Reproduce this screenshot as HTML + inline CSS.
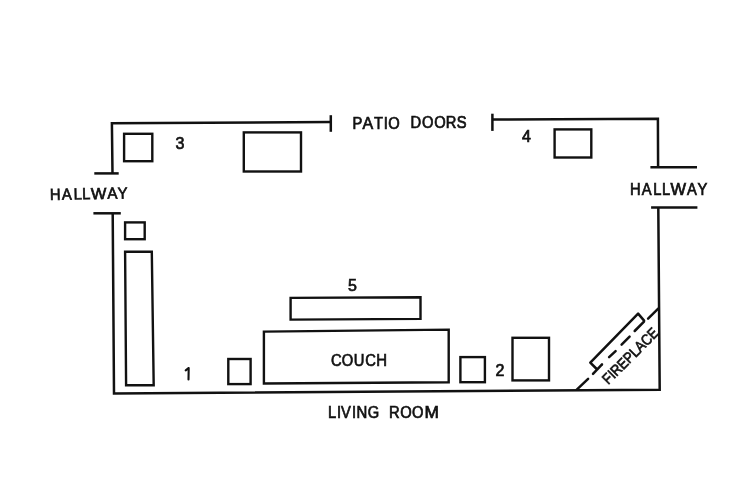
<!DOCTYPE html><html><head><meta charset="utf-8"><style>html,body{margin:0;padding:0;background:#fff;width:730px;height:498px;overflow:hidden}svg{display:block;will-change:transform;filter:blur(0.35px)}text{font-family:"Liberation Sans",sans-serif;fill:#111;stroke:#111;stroke-width:0.7px}</style></head><body>
<svg width="730" height="498" viewBox="0 0 730 498">
<g fill="none" stroke="#111" stroke-width="2.4" stroke-linejoin="miter">
<rect x="124.1" y="133.8" width="28.20" height="27.40"/>
<rect x="243.8" y="132.4" width="57.20" height="39.10"/>
<rect x="554.6" y="129.4" width="36.70" height="28.10"/>
<rect x="125.1" y="222.4" width="19.60" height="16.80"/>
<polygon points="125.1,251.8 151.8,251.8 153.7,385.3 126.1,385.3"/>
<rect x="228.3" y="359" width="22.30" height="25.10"/>
<polygon points="290.6,297.9 420.5,297.2 420.5,318.9 290.6,319.6"/>
<polygon points="263.9,331.6 448.7,329.6 448.7,382.2 263.9,383.5"/>
<rect x="460.4" y="357.1" width="24.50" height="25.10"/>
<rect x="512.5" y="337.8" width="36.50" height="42.60"/>
</g>
<g fill="none" stroke="#111" stroke-width="2.5" stroke-linejoin="miter">
<polyline points="112.5,173.4 111.9,123.3 330.8,122"/>
<line x1="94.3" y1="173.4" x2="118.7" y2="173.4"/>
<line x1="330.8" y1="115.2" x2="330.8" y2="131.8"/>
<line x1="492.4" y1="113.7" x2="492.4" y2="130.9"/>
<polyline points="492.4,119.6 657.9,118.7 658.1,167.3"/>
<line x1="650.4" y1="167.3" x2="697" y2="167.3"/>
<line x1="651.1" y1="207.4" x2="697.4" y2="207.4"/>
<polyline points="658.3,207.4 659.7,389.7 114,393.6 112.7,213.3"/>
<line x1="93.4" y1="213.3" x2="120.8" y2="213.3"/>
</g>
<g fill="none" stroke="#111" stroke-width="2.5" stroke-linejoin="round" stroke-linecap="round">
<polyline points="596.2,368.5 590.3,362.6 638.1,313.6 644.1,320.6"/>
<line x1="576.8" y1="389.7" x2="588.1" y2="378.9"/>
<line x1="593" y1="373.9" x2="602" y2="364.4"/>
<line x1="609.1" y1="357.1" x2="615.6" y2="351.1"/>
<line x1="621.6" y1="344.6" x2="629.6" y2="336.6"/>
<line x1="634.7" y1="331" x2="644" y2="321.6"/>
<line x1="648.1" y1="318.6" x2="658.2" y2="308.6"/>
</g>
<text font-size="16" transform="translate(352.53,128.70) scale(0.920,1)">P</text>
<text font-size="16" transform="translate(362.57,128.70) scale(0.999,1)">A</text>
<text font-size="16" transform="translate(374.01,128.70) scale(0.920,1)">T</text>
<text font-size="16" transform="translate(383.71,128.70) scale(0.920,1)">I</text>
<text font-size="16" transform="translate(388.33,128.70) scale(0.920,1)">O</text>
<text font-size="16" transform="translate(410.43,128.05) scale(0.920,1)">D</text>
<text font-size="16" transform="translate(421.93,128.05) scale(0.920,1)">O</text>
<text font-size="16" transform="translate(434.23,128.05) scale(0.920,1)">O</text>
<text font-size="16" transform="translate(445.67,128.05) scale(0.920,1)">R</text>
<text font-size="16" transform="translate(456.79,128.05) scale(0.920,1)">S</text>
<text font-size="16" transform="translate(331.09,366.45) scale(0.920,1)">C</text>
<text font-size="16" transform="translate(341.78,366.45) scale(0.920,1)">O</text>
<text font-size="16" transform="translate(353.83,366.45) scale(0.920,1)">U</text>
<text font-size="16" transform="translate(365.19,366.45) scale(0.920,1)">C</text>
<text font-size="16" transform="translate(376.15,366.45) scale(0.934,1)">H</text>
<text font-size="16" transform="translate(327.95,418.15) scale(0.920,1)">L</text>
<text font-size="16" transform="translate(337.01,418.15) scale(0.920,1)">I</text>
<text font-size="16" transform="translate(341.04,418.15) scale(0.920,1)">V</text>
<text font-size="16" transform="translate(352.11,418.15) scale(0.920,1)">I</text>
<text font-size="16" transform="translate(356.55,418.15) scale(0.934,1)">N</text>
<text font-size="16" transform="translate(367.70,418.15) scale(0.920,1)">G</text>
<text font-size="16" transform="translate(389.02,418.15) scale(0.920,1)">R</text>
<text font-size="16" transform="translate(400.18,418.15) scale(0.920,1)">O</text>
<text font-size="16" transform="translate(411.98,418.15) scale(0.920,1)">O</text>
<text font-size="16" transform="translate(424.40,418.15) scale(1.080,1)">M</text>
<text font-size="16" transform="translate(629.93,194.50) scale(0.920,1)">H</text>
<text font-size="16" transform="translate(641.74,194.50) scale(0.920,1)">A</text>
<text font-size="16" transform="translate(653.15,194.50) scale(0.920,1)">L</text>
<text font-size="16" transform="translate(662.05,194.50) scale(0.920,1)">L</text>
<text font-size="16" transform="translate(670.54,194.50) scale(1.027,1)">W</text>
<text font-size="16" transform="translate(686.94,194.50) scale(0.920,1)">A</text>
<text font-size="16" transform="translate(697.39,194.50) scale(0.920,1)">Y</text>
<g transform="rotate(-1.1 88.6 194)"><text font-size="16" transform="translate(49.83,199.20) scale(0.920,1)">H</text><text font-size="16" transform="translate(61.99,199.20) scale(0.920,1)">A</text><text font-size="16" transform="translate(73.70,199.20) scale(0.920,1)">L</text><text font-size="16" transform="translate(82.20,199.20) scale(0.920,1)">L</text><text font-size="16" transform="translate(90.94,199.20) scale(1.027,1)">W</text><text font-size="16" transform="translate(107.35,199.20) scale(0.937,1)">A</text><text font-size="16" transform="translate(117.74,199.20) scale(0.920,1)">Y</text></g>
<text font-size="16" letter-spacing="0.000" transform="translate(175.50,148.60)">3</text>
<text font-size="16" letter-spacing="0.000" transform="translate(522.00,142.15)">4</text>
<text font-size="16" letter-spacing="0.000" transform="translate(348.00,291.00)">5</text>
<text font-size="16" letter-spacing="0.000" transform="translate(495.60,375.55)">2</text>
<g stroke="#111" stroke-width="2.1" stroke-linecap="round" fill="none"><path d="M188.5,379.4 L188.7,368.1 M188.5,368.2 L185.7,370.3"/></g>
<text font-size="15" transform="translate(630.1,355.64) rotate(-45) scale(0.8673,1)" text-anchor="middle" dominant-baseline="central">FIREPLACE</text>
</svg></body></html>
